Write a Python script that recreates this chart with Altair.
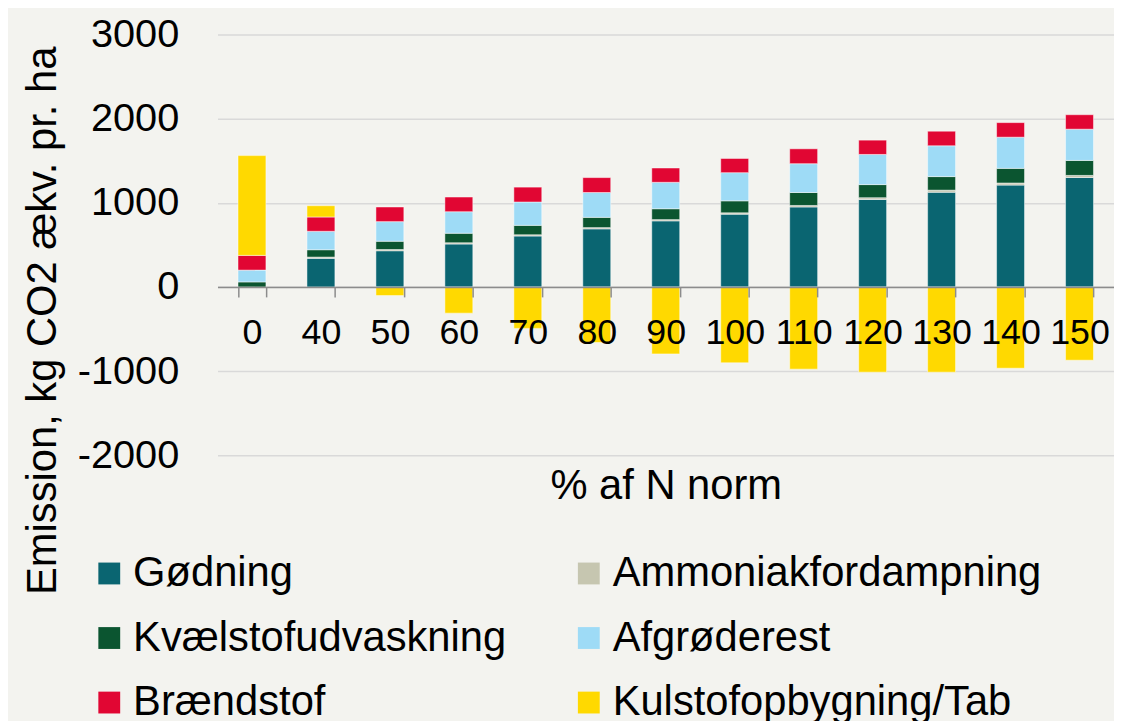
import altair as alt
import pandas as pd

categories = ["0", "40", "50", "60", "70", "80", "90", "100", "110", "120", "130", "140", "150"]
series_names = ["Gødning", "Ammoniakfordampning", "Kvælstofudvaskning", "Afgrøderest", "Brændstof", "Kulstofopbygning/Tab"]
series_colors = ["#0a6571", "#c6c6b0", "#0b5530", "#9edbf6", "#e10633", "#ffd900"]

godning = [0, 340, 430, 510, 605, 690, 785, 865, 950, 1040, 1125, 1210, 1300]
ammonia = [0, 15, 15, 15, 15, 15, 15, 15, 18, 20, 25, 25, 25]
kvaelstof = [60, 87, 98, 113, 112, 122, 129, 143, 154, 156, 161, 174, 178]
afgrode = [140, 219, 233, 256, 277, 295, 314, 335, 342, 358, 366, 370, 371]
braend = [175, 170, 174, 174, 177, 177, 170, 169, 177, 170, 173, 173, 172]
kulstof = [1185, 134, -102, -311, -492, -660, -795, -901, -976, -1012, -1012, -965, -870]

series_values = [godning, ammonia, kvaelstof, afgrode, braend, kulstof]
rows = []
for si, (name, vals) in enumerate(zip(series_names, series_values)):
    for c, v in zip(categories, vals):
        rows.append({"cat": c, "serie": name, "value": v, "idx": si})
df = pd.DataFrame(rows)

FONT = "Liberation Sans"
PLOT_W = 903
PLOT_H = 424

chart = alt.Chart(df).mark_bar(stroke="#ffffff", strokeWidth=0.8, strokeOpacity=0.6).encode(
    x=alt.X("cat:N", sort=categories,
            scale=alt.Scale(paddingInner=0.595, paddingOuter=0.2975),
            axis=alt.Axis(title="% af N norm", labelAngle=0, offset=-169.6, zindex=1,
                          domainColor="#8c8c8c", domainWidth=1.5,
                          tickColor="#8c8c8c", tickWidth=1.5, tickSize=10,
                          tickBand="extent", labelFontSize=36, labelPadding=19,
                          labelOverlap=False,
                          labelFont=FONT, labelColor="#000000",
                          titleFont=FONT, titleFontSize=42, titleFontWeight="normal",
                          titleColor="#000000", titlePadding=116)),
    y=alt.Y("value:Q", stack="zero",
            scale=alt.Scale(domain=[-2000, 3000], nice=False),
            axis=alt.Axis(title="Emission, kg CO2 ækv. pr. ha", values=[-2000, -1000, 0, 1000, 2000, 3000],
                          labelExpr="'' + datum.value",
                          domain=False, ticks=False, tickSize=0, labelPadding=39,
                          labelFontSize=40, labelFont=FONT, labelColor="#000000",
                          gridColor="#d9d9d9", gridWidth=1.5,
                          titleFont=FONT, titleFontSize=42, titleFontWeight="normal",
                          titleColor="#000000", titleX=-176, titleY=288,
                          titleAlign="center", titleBaseline="middle", titleAngle=-90)),
    color=alt.Color("serie:N", sort=series_names,
                    scale=alt.Scale(domain=series_names, range=series_colors),
                    legend=alt.Legend(title=None, orient="none", legendX=-130, legendY=522,
                                      direction="horizontal",
                                      columns=2, columnPadding=62, rowPadding=23,
                                      symbolType="square", symbolSize=484, symbolStrokeWidth=0,
                                      labelFontSize=42, labelFont=FONT, labelColor="#000000",
                                      labelOffset=3, labelLimit=600)),
    order=alt.Order("idx:Q"),
).properties(
    width=PLOT_W, height=PLOT_H,
    autosize=alt.AutoSizeParams(type="none"),
    padding={"left": 211, "top": 24, "right": 0, "bottom": 265},
    background="#f3f3ef",
).configure_view(stroke=None)

chart.save("out.html", embed_options={"renderer": "svg", "actions": False})
